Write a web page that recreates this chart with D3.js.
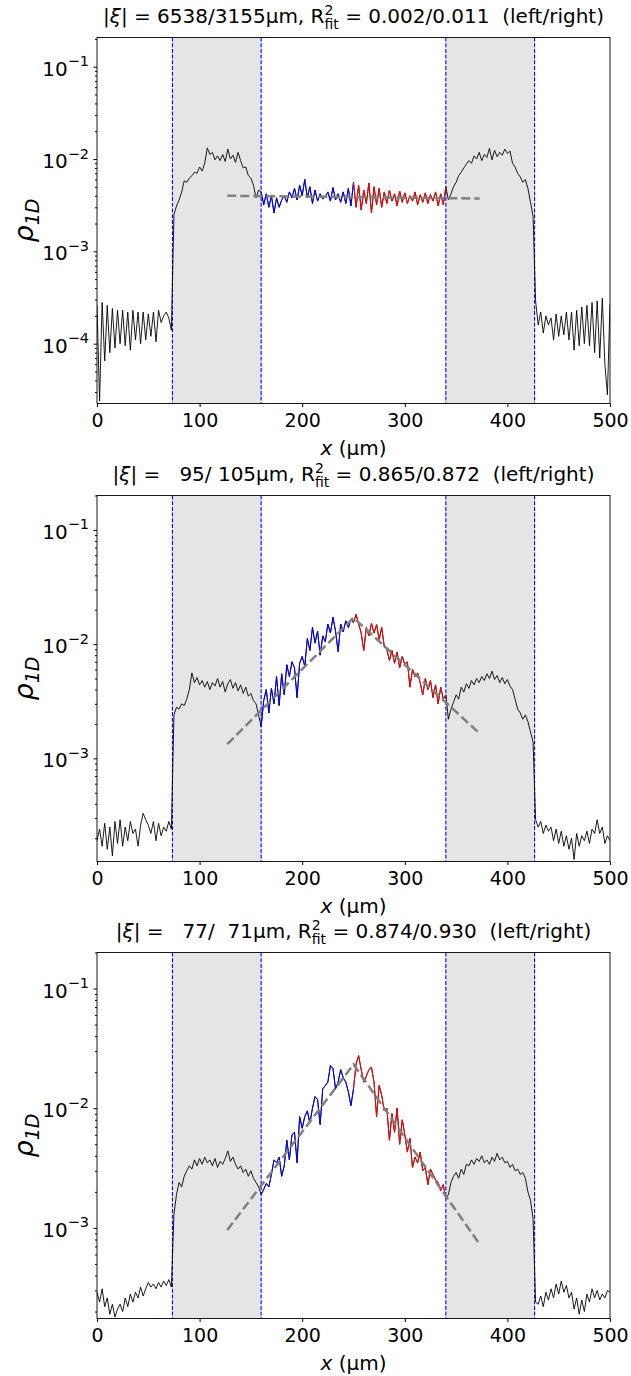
<!DOCTYPE html>
<html>
<head>
<meta charset="utf-8">
<script src="https://cdn.jsdelivr.net/npm/d3@7"></script>
<style>
  body { margin: 0; background: #fff; }
  svg { font-family: "DejaVu Sans", sans-serif; }
  text { white-space: pre; }
</style>
</head>
<body>
<div id="chart"></div>
<script>
// sampling step of the profiles (µm), values are rho_1D in units of 1e-4
const xStep = 2.5;
const rhoUnit = 1e-4;

const rhoTop = [
  2.6, 0.24, 2.8, 0.65, 2.6, 0.8, 2.4, 0.9, 2.3, 1.0,
  2.3, 0.95, 2.2, 0.85, 2.3, 1.1, 2.2, 1.0, 2.2, 1.1,
  2.1, 1.2, 2.2, 1.05, 2.3, 1.7, 2.0, 2.2, 1.9, 1.4,
  25, 31, 36, 44, 58, 56, 62, 66, 72, 70,
  82, 74, 90, 132, 112, 118, 98, 108, 96, 112,
  94, 128, 100, 110, 92, 118, 96, 80, 82, 66,
  62, 52, 38, 46, 44, 32, 42, 30, 40, 26,
  38, 30, 36, 40, 34, 44, 38, 48, 36, 52,
  40, 60, 38, 50, 33, 46, 35, 42, 37, 39,
  44, 35, 49, 36, 42, 34, 44, 33, 48, 31,
  56, 30, 52, 28, 46, 33, 55, 26, 50, 32,
  48, 30, 44, 33, 46, 35, 42, 31, 45, 34,
  43, 33, 40, 35, 44, 32, 41, 34, 43, 33,
  41, 35, 44, 31, 42, 32, 50, 36, 42, 50,
  56, 66, 72, 80, 88, 96, 90, 108, 100, 118,
  96, 112, 104, 130, 98, 124, 106, 118, 110, 128,
  115, 122, 90, 82, 70, 64, 56, 60, 48, 34,
  24, 2.9, 1.6, 2.2, 1.3, 2.0, 1.6, 1.9, 1.1, 2.1,
  1.2, 2.0, 1.25, 2.2, 1.1, 2.2, 0.85, 2.3, 0.95, 2.5,
  1.0, 2.6, 0.95, 2.8, 0.8, 2.9, 0.7, 3.1, 0.6, 0.28,
  2.7
];

const rhoMid = [
  1.9, 2.4, 1.7, 2.7, 1.6, 2.5, 1.4, 2.8, 1.8, 2.9,
  1.7, 2.5, 1.9, 2.8, 2.2, 2.4, 1.7, 2.6, 3.3, 2.9,
  2.6, 2.2, 2.8, 1.9, 2.7, 2.1, 2.5, 2.3, 2.8, 2.4,
  24, 28, 27, 30, 29, 33, 40, 56, 46, 51,
  44, 48, 42, 47, 40, 46, 43, 50, 42, 47,
  38, 45, 49, 41, 46, 39, 44, 37, 42, 35,
  37, 32, 30, 24, 19, 32, 40, 25, 41, 30,
  52, 29, 55, 36, 66, 52, 70, 62, 34, 68,
  78, 64, 112, 88, 140, 102, 130, 80, 118, 105,
  150, 125, 172, 130, 86, 150, 128, 160, 140, 165,
  155, 182, 150, 125, 88, 140, 118, 152, 125, 148,
  110, 140, 95, 90, 72, 88, 68, 85, 62, 78,
  66, 70, 42, 60, 52, 56, 46, 36, 50, 40,
  48, 34, 44, 30, 42, 33, 36, 22, 27, 31,
  36, 33, 42, 38, 45, 41, 48, 44, 50, 46,
  52, 48, 55, 50, 58, 49, 53, 46, 51, 45,
  49, 43, 40, 33, 27, 25, 22, 24, 21, 17,
  14, 2.9, 2.5, 2.8, 2.2, 2.6, 2.3, 2.5, 1.9, 2.4,
  1.8, 2.3, 1.7, 2.1, 1.6, 2.0, 1.3, 2.2, 1.7, 2.1,
  1.9, 2.3, 1.8, 2.4, 2.2, 2.9, 2.2, 2.5, 1.8, 2.1,
  1.9
];

const rhoBot = [
  2.9, 2.4, 3.1, 2.2, 2.6, 1.9, 2.3, 1.8, 2.1, 2.3,
  2.0, 2.6, 2.2, 2.8, 2.4, 2.9, 2.6, 3.2, 2.7, 3.1,
  3.5, 3.2, 3.4, 3.1, 3.5, 3.2, 3.6, 3.3, 3.7, 3.2,
  13, 19, 24, 22, 27, 30, 33, 31, 37, 33,
  38, 34, 39, 35, 37, 33, 38, 32, 36, 34,
  38, 44, 36, 39, 34, 31, 33, 29, 31, 27,
  30, 26, 24, 22, 19, 21, 23.5, 22, 28, 37,
  35, 39, 27, 33, 54, 37, 60, 63, 35, 85,
  68, 85, 95, 75, 100, 125, 118, 73, 145, 155,
  165, 227, 215, 145, 165, 210, 180, 165, 137, 105,
  145, 235, 275, 210, 165, 185, 210, 220, 165, 85,
  155, 128, 95, 100, 54, 90, 63, 100, 50, 80,
  60, 43, 56, 32, 39, 35, 43, 30, 32, 23,
  31, 28, 25, 24, 20.5, 23, 17.5, 19, 24, 27,
  29, 26, 31, 28, 34, 33, 37, 34, 38, 36,
  40, 35, 37, 34, 39, 36, 42, 37, 39, 35,
  36, 32, 34, 30, 31, 28, 29, 26, 20, 17,
  12, 2.4, 2.3, 2.7, 2.2, 2.9, 2.5, 3.1, 2.6, 3.4,
  2.8, 3.6, 2.9, 3.3, 2.6, 2.9, 2.1, 2.6, 1.9, 2.5,
  2.0, 2.8, 2.4, 3.1, 2.6, 3.0, 2.5, 2.8, 2.6, 3.0,
  2.9
];

// exponential fits (straight in log space), left end / centre / right end
const fitX = [127, 250, 373];
const fitTop = [40, 38.7, 37.3];
const fitMid = [13.3, 170, 16.5];
const fitBot = [9.6, 232, 7.3];

const xiLabels = ["6538/3155", "  95/ 105", "  77/  71"];
const r2Labels = ["0.002/0.011", "0.865/0.872", "0.874/0.930"];
const yDomains = [[2.25e-5, 0.207], [1.25e-4, 0.2], [1.75e-4, 0.2]];

const bands = [[73.5, 160], [340, 426.5]];
const bandLines = [73.5, 160, 340, 426.5];
const leftRange = [160, 250];
const rightRange = [250, 340];
const xTicks = [0, 100, 200, 300, 400, 500];
const yExponents = [-1, -2, -3, -4];

const panels = [
  { rho: rhoTop, fit: fitTop },
  { rho: rhoMid, fit: fitMid },
  { rho: rhoBot, fit: fitBot }
];

const W = 631, H = 1376;
const margin = { left: 97, right: 21 };
const plotW = W - margin.left - margin.right;
const plotH = 366;
const panelTop = [37.5, 495.5, 952.5];

const svg = d3.select("#chart").append("svg")
  .attr("width", W).attr("height", H);

const x = d3.scaleLinear().domain([0, 500]).range([0, plotW]);

panels.forEach((p, k) => {
  const data = p.rho.map((v, i) => ({ x: i * xStep, v: v * rhoUnit }));
  const fitData = fitX.map((fx, i) => ({ x: fx, v: p.fit[i] * rhoUnit }));

  const y = d3.scaleLog().domain(yDomains[k]).range([plotH, 0]);

  const g = svg.append("g")
    .attr("transform", `translate(${margin.left},${panelTop[k]})`);

  g.append("clipPath").attr("id", "clip" + k)
    .append("rect").attr("width", plotW).attr("height", plotH);

  const plot = g.append("g").attr("clip-path", `url(#clip${k})`);

  // shaded bands
  plot.selectAll(".band").data(bands).enter().append("rect")
    .attr("x", d => x(d[0]))
    .attr("width", d => x(d[1]) - x(d[0]))
    .attr("y", 0).attr("height", plotH)
    .attr("fill", "#e5e5e5");

  // dashed blue boundaries
  plot.selectAll(".vline").data(bandLines).enter().append("line")
    .attr("x1", d => x(d)).attr("x2", d => x(d))
    .attr("y1", 0).attr("y2", plotH)
    .attr("stroke", "#0000ff").attr("stroke-width", 1.1)
    .attr("stroke-dasharray", "4,1.7");

  const line = d3.line().x(d => x(d.x)).y(d => y(d.v));

  plot.append("path").datum(data)
    .attr("fill", "none").attr("stroke", "#000")
    .attr("stroke-width", 0.9).attr("d", line);

  plot.append("path")
    .datum(data.filter(d => d.x >= leftRange[0] && d.x <= leftRange[1]))
    .attr("fill", "none").attr("stroke", "#0000ff")
    .attr("stroke-width", 1).attr("d", line);

  plot.append("path")
    .datum(data.filter(d => d.x >= rightRange[0] && d.x <= rightRange[1]))
    .attr("fill", "none").attr("stroke", "#ff0000")
    .attr("stroke-width", 1).attr("d", line);

  plot.append("path").datum(fitData)
    .attr("fill", "none").attr("stroke", "#808080")
    .attr("stroke-width", 2.5).attr("stroke-dasharray", "9,4")
    .attr("d", line);

  // frame
  g.append("rect")
    .attr("width", plotW).attr("height", plotH)
    .attr("fill", "none").attr("stroke", "#000").attr("stroke-width", 0.9);

  // x axis
  const xAxis = g.append("g")
    .attr("transform", `translate(0,${plotH})`)
    .call(d3.axisBottom(x).tickValues(xTicks).tickSize(3.5).tickPadding(7));
  xAxis.select(".domain").remove();
  xAxis.selectAll("text")
    .style("font-size", "19px").attr("fill", "#000")
    .attr("font-family", "DejaVu Sans");

  // y axis: major ticks with 10^n labels, minor ticks
  const majors = yExponents.map(e => Math.pow(10, e))
    .filter(v => v >= yDomains[k][0] && v <= yDomains[k][1]);
  const minors = [];
  yExponents.concat([-5]).forEach(e => {
    for (let m = 2; m <= 9; m++) {
      const v = m * Math.pow(10, e);
      if (v >= yDomains[k][0] && v <= yDomains[k][1]) minors.push(v);
    }
  });

  const yMinor = g.append("g")
    .call(d3.axisLeft(y).tickValues(minors).tickSize(2).tickFormat(""));
  yMinor.select(".domain").remove();

  const yMajor = g.append("g")
    .call(d3.axisLeft(y).tickValues(majors).tickSize(3.5).tickFormat(""));
  yMajor.select(".domain").remove();

  const lab = g.selectAll(".ylab").data(majors).enter().append("text")
    .attr("x", -8).attr("y", d => y(d) + 9)
    .attr("text-anchor", "end")
    .attr("fill", "#000");
  lab.append("tspan").style("font-size", "20px").text("10");
  lab.append("tspan").style("font-size", "14.5px").attr("dy", -9.5)
    .text(d => "\u2212" + Math.round(-Math.log10(d)));

  // y label
  const yl = g.append("text")
    .attr("transform", `translate(-64,${plotH / 2}) rotate(-90)`)
    .attr("text-anchor", "middle").attr("fill", "#000")
    .style("font-style", "italic");
  yl.append("tspan").style("font-size", "27px").text("ρ");
  yl.append("tspan").style("font-size", "19px").attr("dy", 6).text("1D");

  // x label
  const xl = g.append("text")
    .attr("x", plotW / 2).attr("y", plotH + 51)
    .attr("text-anchor", "middle").attr("fill", "#000")
    .style("font-size", "20px");
  xl.append("tspan").style("font-style", "italic").text("x");
  xl.append("tspan").text(" (µm)");

  // title
  const t = g.append("text")
    .attr("x", plotW / 2).attr("y", -15)
    .attr("text-anchor", "middle").attr("fill", "#000")
    .style("font-size", "20px");
  t.append("tspan").text("|");
  t.append("tspan").style("font-style", "italic").text("ξ");
  t.append("tspan").text(`| = ${xiLabels[k]}µm, R`);
  t.append("tspan").style("font-size", "14px").attr("dy", -8).text("2");
  t.append("tspan").style("font-size", "14px").attr("dx", -8.9).attr("dy", 14).text("fit");
  t.append("tspan").attr("dy", -6).text(` = ${r2Labels[k]}  (left/right)`);
});
</script>
</body>
</html>
